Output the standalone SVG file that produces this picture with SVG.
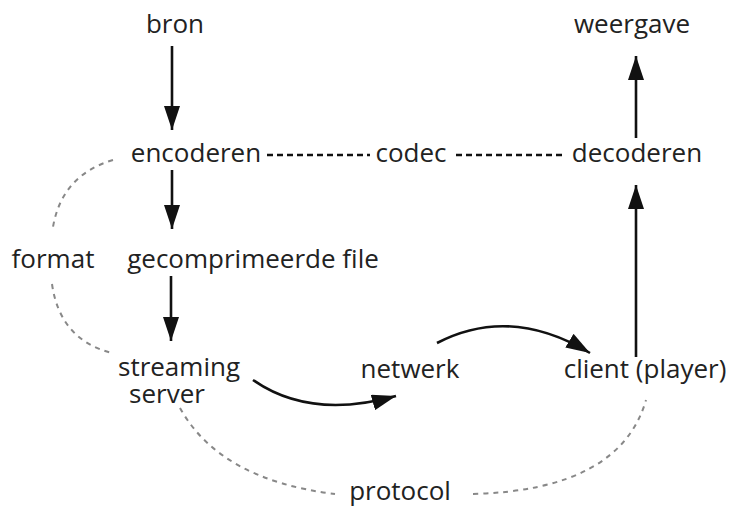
<svg xmlns="http://www.w3.org/2000/svg" width="730" height="511" viewBox="0 0 730 511">
<style>
text{font-family:"Open Sans","Liberation Sans",Arial,sans-serif;font-size:26px;fill:#222;}
.a{stroke:#111;stroke-width:2.6;fill:none;}
.d{stroke:#111;stroke-width:2.6;fill:none;stroke-dasharray:6 4;}
.g{stroke:#888;stroke-width:2;fill:none;stroke-dasharray:5 5;}
</style>
<defs>
<marker id="m" viewBox="0 0 24 16" refX="24" refY="8" markerWidth="24" markerHeight="16" markerUnits="userSpaceOnUse" orient="auto">
<path d="M0,0 L24,8 L0,16 Z" fill="#111"/>
</marker>
</defs>
<rect width="730" height="511" fill="#fff"/>
<g id="connectors">
<line class="a" x1="172" y1="46" x2="172" y2="130" marker-end="url(#m)"/>
<line class="a" x1="172" y1="170" x2="172" y2="229" marker-end="url(#m)"/>
<line class="a" x1="171" y1="276" x2="171" y2="341" marker-end="url(#m)"/>
<line class="a" x1="636" y1="138" x2="636" y2="56" marker-end="url(#m)"/>
<line class="a" x1="636" y1="357" x2="636" y2="185" marker-end="url(#m)"/>
<line class="d" x1="267" y1="155" x2="370" y2="155"/>
<line class="d" x1="456" y1="155" x2="566" y2="155"/>
<path class="a" d="M253,380 Q310,420 396,396" marker-end="url(#m)"/>
<path class="a" d="M437,343 Q510,305 590,353" marker-end="url(#m)"/>
<path class="g" d="M113,160 Q62,175 53,227"/>
<path class="g" d="M52,284 Q60,340 112,353"/>
<path class="g" d="M180,408 Q220,480 335,494"/>
<path class="g" d="M473,494 Q620,490 646,400"/>
</g>
<g id="bron"><text x="175" y="33" text-anchor="middle">bron</text></g>
<g id="weergave"><text x="632" y="33" text-anchor="middle">weergave</text></g>
<g id="encoderen"><text x="196" y="162" text-anchor="middle">encoderen</text></g>
<g id="codec"><text x="411" y="162" text-anchor="middle">codec</text></g>
<g id="decoderen"><text x="637" y="162" text-anchor="middle">decoderen</text></g>
<g id="format"><text x="53" y="268" text-anchor="middle">format</text></g>
<g id="gecomprimeerde"><text x="253" y="268" text-anchor="middle">gecomprimeerde file</text></g>
<g id="streaming"><text text-anchor="middle"><tspan x="179" y="376">streaming</tspan><tspan x="167" y="403">server</tspan></text></g>
<g id="netwerk"><text x="410" y="378" text-anchor="middle">netwerk</text></g>
<g id="client"><text x="645" y="378" text-anchor="middle">client (player)</text></g>
<g id="protocol"><text x="400" y="500" text-anchor="middle">protocol</text></g>
</svg>
